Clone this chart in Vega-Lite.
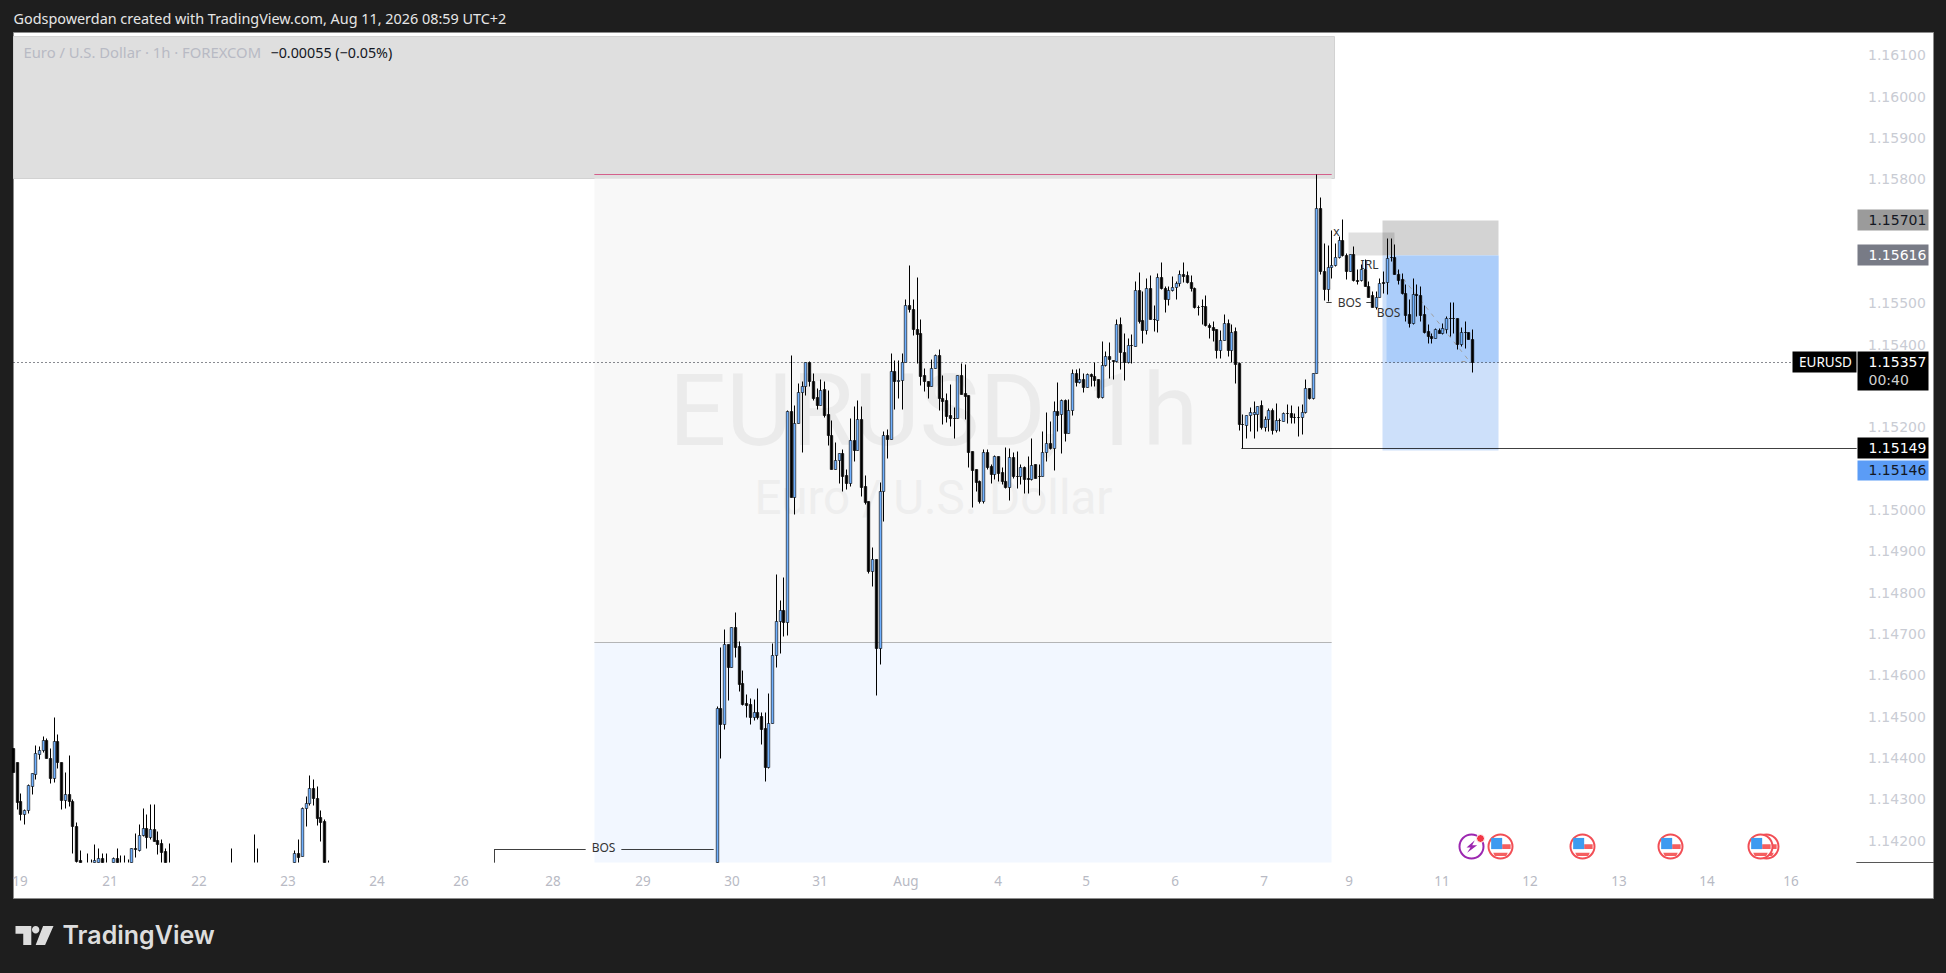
{
"$schema":"https://vega.github.io/schema/vega-lite/v6.json",
"width":1946,"height":973,"autosize":"none","padding":{"left":0.5,"top":0.5,"right":0,"bottom":0},
"background":"#1e1e1e",
"config":{"view":{"stroke":null},"axis":{"grid":false}},
"resolve":{"scale":{"fill":"independent","stroke":"independent","color":"independent","strokeDash":"independent"}},
"datasets":{
"zones":[
{"name":"frame","b1":0,"b2":518.4,"p1":1.16156,"p2":1.14061},
{"name":"supply","b1":0,"b2":356.8,"p1":1.16146,"p2":1.15802},
{"name":"range","b1":156.9,"b2":355.9,"p1":1.15802,"p2":1.1468},
{"name":"discount","b1":156.9,"b2":355.9,"p1":1.1468,"p2":1.14148},
{"name":"stop","b1":369.6,"b2":400.9,"p1":1.15701,"p2":1.15616},
{"name":"target","b1":369.6,"b2":400.9,"p1":1.15616,"p2":1.15146},
{"name":"open profit","b1":370.8,"b2":400.9,"p1":1.15616,"p2":1.15357},
{"name":"block","b1":360.5,"b2":372.9,"p1":1.15672,"p2":1.15616}
],
"lines":[
{"name":"high","b1":156.9,"b2":355.9,"p1":1.15814,"p2":1.15814},
{"name":"mid","b1":156.9,"b2":355.9,"p1":1.1468,"p2":1.1468},
{"name":"last","b1":0,"b2":480.4,"p1":1.15357,"p2":1.15357},
{"name":"low","b1":331.6,"b2":497.7,"p1":1.15149,"p2":1.15149},
{"name":"bos","b1":130,"b2":154.5,"p1":1.1418,"p2":1.1418},
{"name":"bos","b1":164.2,"b2":189,"p1":1.1418,"p2":1.1418},
{"name":"bos","b1":130,"b2":130,"p1":1.1418,"p2":1.14148},
{"name":"bos","b1":354.6,"b2":355.9,"p1":1.15503,"p2":1.15503},
{"name":"bos","b1":365.4,"b2":366.7,"p1":1.15503,"p2":1.15503},
{"name":"path","b1":373.8,"b2":393.5,"p1":1.15577,"p2":1.15359},
{"name":"path","b1":391,"b2":393.5,"p1":1.15361,"p2":1.15361},
{"name":"scale","b1":497.7,"b2":518.4,"p1":1.14148,"p2":1.14148}
],
"candles":[
{"b":0,"o":1.14425,"h":1.14425,"l":1.14365,"c":1.14365},
{"b":1,"o":1.14389,"h":1.14389,"l":1.14276,"c":1.14294},
{"b":2,"o":1.14295,"h":1.14315,"l":1.14249,"c":1.14264},
{"b":3,"o":1.14264,"h":1.14276,"l":1.1424,"c":1.14274},
{"b":4,"o":1.14274,"h":1.14336,"l":1.14266,"c":1.14334},
{"b":5,"o":1.14332,"h":1.14363,"l":1.14312,"c":1.14363},
{"b":6,"o":1.14361,"h":1.14431,"l":1.14349,"c":1.14411},
{"b":7,"o":1.14409,"h":1.14429,"l":1.14397,"c":1.1442},
{"b":8,"o":1.1442,"h":1.14452,"l":1.14415,"c":1.14444},
{"b":9,"o":1.14444,"h":1.14449,"l":1.14399,"c":1.14399},
{"b":10,"o":1.14401,"h":1.14423,"l":1.1434,"c":1.14351},
{"b":11,"o":1.14351,"h":1.14498,"l":1.14342,"c":1.1444},
{"b":12,"o":1.1444,"h":1.14457,"l":1.14375,"c":1.14389},
{"b":13,"o":1.14389,"h":1.14389,"l":1.14276,"c":1.14299},
{"b":14,"o":1.14299,"h":1.14366,"l":1.1428,"c":1.14312},
{"b":15,"o":1.14312,"h":1.14407,"l":1.14284,"c":1.14295},
{"b":16,"o":1.14295,"h":1.143,"l":1.14169,"c":1.14236},
{"b":17,"o":1.14236,"h":1.14245,"l":1.14148,"c":1.14151},
{"b":18,"o":1.14152,"h":1.14177,"l":1.14148,"c":1.14148},
{"b":20,"h":1.14171,"l":1.14148},
{"b":21,"h":1.14155,"l":1.14148},
{"b":22,"o":1.14148,"h":1.14191,"l":1.14148,"c":1.14152},
{"b":23,"o":1.14148,"h":1.14183,"l":1.14148,"c":1.14157},
{"b":24,"o":1.14157,"h":1.14171,"l":1.14148,"c":1.14148},
{"b":25,"h":1.14169,"l":1.14148},
{"b":27,"o":1.14148,"h":1.14161,"l":1.14148,"c":1.14159},
{"b":28,"o":1.14159,"h":1.14183,"l":1.14148,"c":1.14148},
{"b":29,"h":1.14165,"l":1.14148},
{"b":30,"h":1.14165,"l":1.14148},
{"b":31,"h":1.14155,"l":1.14148},
{"b":32,"o":1.14148,"h":1.14181,"l":1.14148,"c":1.14181},
{"b":33,"o":1.14181,"h":1.14219,"l":1.14161,"c":1.14179},
{"b":34,"o":1.14178,"h":1.1424,"l":1.14175,"c":1.14213},
{"b":35,"o":1.14213,"h":1.14278,"l":1.1421,"c":1.1423},
{"b":36,"o":1.1423,"h":1.14264,"l":1.14182,"c":1.14209},
{"b":37,"o":1.14209,"h":1.14288,"l":1.14205,"c":1.14228},
{"b":38,"o":1.14228,"h":1.14288,"l":1.14199,"c":1.14199},
{"b":39,"o":1.14201,"h":1.14224,"l":1.14167,"c":1.14192},
{"b":40,"o":1.14194,"h":1.14205,"l":1.14148,"c":1.14173},
{"b":41,"o":1.14174,"h":1.14181,"l":1.14148,"c":1.14148},
{"b":42,"h":1.14195,"l":1.14148},
{"b":59,"h":1.14183,"l":1.14148},
{"b":65,"h":1.14217,"l":1.14148},
{"b":66,"h":1.14183,"l":1.14148},
{"b":76,"o":1.14148,"h":1.14177,"l":1.14148,"c":1.14171},
{"b":77,"o":1.14171,"h":1.14205,"l":1.14148,"c":1.14161},
{"b":78,"o":1.14163,"h":1.14282,"l":1.14163,"c":1.14278},
{"b":79,"o":1.14278,"h":1.14308,"l":1.14236,"c":1.14292},
{"b":80,"o":1.14292,"h":1.14358,"l":1.14286,"c":1.14327},
{"b":81,"o":1.14327,"h":1.1435,"l":1.14286,"c":1.14302},
{"b":82,"o":1.14302,"h":1.14331,"l":1.14237,"c":1.14255},
{"b":83,"o":1.14256,"h":1.14274,"l":1.14199,"c":1.14245},
{"b":84,"o":1.14247,"h":1.14252,"l":1.14148,"c":1.14148},
{"b":85,"h":1.14153,"l":1.14148},
{"b":190,"o":1.14148,"h":1.14525,"l":1.14148,"c":1.14521},
{"b":191,"o":1.14521,"h":1.14669,"l":1.144,"c":1.14481},
{"b":192,"o":1.14481,"h":1.14712,"l":1.14471,"c":1.14675},
{"b":193,"o":1.14675,"h":1.14675,"l":1.14541,"c":1.14619},
{"b":194,"o":1.14619,"h":1.14716,"l":1.14619,"c":1.14716},
{"b":195,"o":1.14716,"h":1.14753,"l":1.14645,"c":1.14669},
{"b":196,"o":1.14671,"h":1.14682,"l":1.14561,"c":1.1458},
{"b":197,"o":1.14581,"h":1.14612,"l":1.14528,"c":1.1453},
{"b":198,"o":1.14532,"h":1.14555,"l":1.14498,"c":1.14529},
{"b":199,"o":1.1453,"h":1.14545,"l":1.14481,"c":1.14498},
{"b":200,"o":1.14498,"h":1.14543,"l":1.14492,"c":1.14512},
{"b":201,"o":1.14512,"h":1.14569,"l":1.14494,"c":1.145},
{"b":202,"o":1.14502,"h":1.14512,"l":1.14434,"c":1.14471},
{"b":203,"o":1.14472,"h":1.14512,"l":1.14345,"c":1.14377},
{"b":204,"o":1.14377,"h":1.14557,"l":1.14375,"c":1.14484},
{"b":205,"o":1.14484,"h":1.14678,"l":1.14484,"c":1.14648},
{"b":206,"o":1.14648,"h":1.14845,"l":1.14619,"c":1.14731},
{"b":207,"o":1.14731,"h":1.14782,"l":1.14655,"c":1.14759},
{"b":208,"o":1.14759,"h":1.14837,"l":1.14696,"c":1.14728},
{"b":209,"o":1.14728,"h":1.15241,"l":1.14698,"c":1.15239},
{"b":210,"o":1.15239,"h":1.15375,"l":1.15031,"c":1.15031},
{"b":211,"o":1.15031,"h":1.15254,"l":1.1499,"c":1.1521},
{"b":212,"o":1.1521,"h":1.15308,"l":1.1521,"c":1.15286},
{"b":213,"o":1.15285,"h":1.15311,"l":1.15141,"c":1.15299},
{"b":214,"o":1.15299,"h":1.15357,"l":1.15278,"c":1.15357},
{"b":215,"o":1.15357,"h":1.1536,"l":1.15299,"c":1.15313},
{"b":216,"o":1.15313,"h":1.15331,"l":1.15267,"c":1.15272},
{"b":217,"o":1.15274,"h":1.15294,"l":1.15244,"c":1.15255},
{"b":218,"o":1.15255,"h":1.15316,"l":1.15254,"c":1.1529},
{"b":219,"o":1.15292,"h":1.15311,"l":1.15225,"c":1.15229},
{"b":220,"o":1.15231,"h":1.1529,"l":1.15157,"c":1.15182},
{"b":221,"o":1.15182,"h":1.15217,"l":1.151,"c":1.151},
{"b":222,"o":1.151,"h":1.15165,"l":1.151,"c":1.15122},
{"b":223,"o":1.15121,"h":1.15139,"l":1.15066,"c":1.15137},
{"b":224,"o":1.15137,"h":1.15147,"l":1.15045,"c":1.15082},
{"b":225,"o":1.15084,"h":1.15098,"l":1.15051,"c":1.15066},
{"b":226,"o":1.15066,"h":1.15223,"l":1.15057,"c":1.1517},
{"b":227,"o":1.1517,"h":1.15251,"l":1.15119,"c":1.15146},
{"b":228,"o":1.15146,"h":1.15266,"l":1.15146,"c":1.15221},
{"b":229,"o":1.15221,"h":1.15251,"l":1.15033,"c":1.15056},
{"b":230,"o":1.15057,"h":1.15084,"l":1.15015,"c":1.15019},
{"b":231,"o":1.15021,"h":1.15022,"l":1.14848,"c":1.14853},
{"b":232,"o":1.14853,"h":1.1491,"l":1.14816,"c":1.14882},
{"b":233,"o":1.14882,"h":1.14882,"l":1.14553,"c":1.14667},
{"b":234,"o":1.14667,"h":1.15067,"l":1.14627,"c":1.15047},
{"b":235,"o":1.15047,"h":1.15192,"l":1.14974,"c":1.15182},
{"b":236,"o":1.15182,"h":1.15195,"l":1.15125,"c":1.15172},
{"b":237,"o":1.15172,"h":1.15379,"l":1.15172,"c":1.15337},
{"b":238,"o":1.15337,"h":1.15364,"l":1.15245,"c":1.15311},
{"b":239,"o":1.15311,"h":1.15364,"l":1.15272,"c":1.15315},
{"b":240,"o":1.15315,"h":1.1538,"l":1.15244,"c":1.15358},
{"b":241,"o":1.15359,"h":1.1551,"l":1.15359,"c":1.15495},
{"b":242,"o":1.15495,"h":1.15592,"l":1.15479,"c":1.15485},
{"b":243,"o":1.15487,"h":1.15511,"l":1.15423,"c":1.15437},
{"b":244,"o":1.15439,"h":1.15563,"l":1.15355,"c":1.15425},
{"b":245,"o":1.15427,"h":1.15463,"l":1.15302,"c":1.15324},
{"b":246,"o":1.15326,"h":1.15344,"l":1.15288,"c":1.15312},
{"b":247,"o":1.15313,"h":1.15313,"l":1.15271,"c":1.153},
{"b":248,"o":1.153,"h":1.15366,"l":1.153,"c":1.15344},
{"b":249,"o":1.15344,"h":1.15378,"l":1.15343,"c":1.15374},
{"b":250,"o":1.15374,"h":1.1539,"l":1.15242,"c":1.15271},
{"b":251,"o":1.15272,"h":1.15326,"l":1.15207,"c":1.15264},
{"b":252,"o":1.15265,"h":1.15284,"l":1.15213,"c":1.15227},
{"b":253,"o":1.15229,"h":1.15304,"l":1.15202,"c":1.15223},
{"b":254,"o":1.15223,"h":1.15248,"l":1.15174,"c":1.15222},
{"b":255,"o":1.15223,"h":1.15327,"l":1.15223,"c":1.15327},
{"b":256,"o":1.15327,"h":1.15355,"l":1.15281,"c":1.15281},
{"b":257,"o":1.15282,"h":1.15352,"l":1.15219,"c":1.15276},
{"b":258,"o":1.15277,"h":1.15277,"l":1.15105,"c":1.1514},
{"b":259,"o":1.15142,"h":1.15143,"l":1.15007,"c":1.15097},
{"b":260,"o":1.15098,"h":1.15098,"l":1.15046,"c":1.15068},
{"b":261,"o":1.1507,"h":1.15072,"l":1.15016,"c":1.15022},
{"b":262,"o":1.15022,"h":1.15148,"l":1.15016,"c":1.1514},
{"b":263,"o":1.1514,"h":1.15148,"l":1.15098,"c":1.15105},
{"b":264,"o":1.15106,"h":1.15111,"l":1.15065,"c":1.15086},
{"b":265,"o":1.15088,"h":1.15132,"l":1.15074,"c":1.1513},
{"b":266,"o":1.1513,"h":1.1513,"l":1.1507,"c":1.15089},
{"b":267,"o":1.15091,"h":1.15105,"l":1.15062,"c":1.15069},
{"b":268,"o":1.15071,"h":1.15153,"l":1.15054,"c":1.15056},
{"b":269,"o":1.15056,"h":1.15149,"l":1.15024,"c":1.15127},
{"b":270,"o":1.15127,"h":1.15141,"l":1.15078,"c":1.15082},
{"b":271,"o":1.15082,"h":1.15143,"l":1.15054,"c":1.15081},
{"b":272,"o":1.15082,"h":1.15111,"l":1.15062,"c":1.15105},
{"b":273,"o":1.15105,"h":1.15107,"l":1.15042,"c":1.15076},
{"b":274,"o":1.15077,"h":1.15131,"l":1.15042,"c":1.15076},
{"b":275,"o":1.15076,"h":1.15173,"l":1.15073,"c":1.15109},
{"b":276,"o":1.1511,"h":1.1511,"l":1.15077,"c":1.15078},
{"b":277,"o":1.15083,"h":1.1511,"l":1.15036,"c":1.15082},
{"b":278,"o":1.15082,"h":1.1519,"l":1.15082,"c":1.15141},
{"b":279,"o":1.15141,"h":1.15236,"l":1.15119,"c":1.15163},
{"b":280,"o":1.15163,"h":1.15215,"l":1.15148,"c":1.1515},
{"b":281,"o":1.15151,"h":1.15264,"l":1.15097,"c":1.1524},
{"b":282,"o":1.1524,"h":1.1531,"l":1.15191,"c":1.15229},
{"b":283,"o":1.15231,"h":1.15268,"l":1.15139,"c":1.15265},
{"b":284,"o":1.15265,"h":1.15269,"l":1.15167,"c":1.15187},
{"b":285,"o":1.15187,"h":1.15268,"l":1.15187,"c":1.15243},
{"b":286,"o":1.15243,"h":1.1534,"l":1.15229,"c":1.15332},
{"b":287,"o":1.15332,"h":1.1534,"l":1.153,"c":1.1531},
{"b":288,"o":1.1531,"h":1.15344,"l":1.15308,"c":1.15316},
{"b":289,"o":1.15316,"h":1.15332,"l":1.15285,"c":1.15297},
{"b":290,"o":1.15297,"h":1.15332,"l":1.15297,"c":1.1533},
{"b":291,"o":1.1533,"h":1.15332,"l":1.153,"c":1.15323},
{"b":292,"o":1.15323,"h":1.15359,"l":1.153,"c":1.15315},
{"b":293,"o":1.15316,"h":1.15316,"l":1.15272,"c":1.15274},
{"b":294,"o":1.15273,"h":1.15408,"l":1.15271,"c":1.1535},
{"b":295,"o":1.1535,"h":1.15385,"l":1.15348,"c":1.15373},
{"b":296,"o":1.15373,"h":1.15406,"l":1.1532,"c":1.15365},
{"b":297,"o":1.15363,"h":1.15364,"l":1.15318,"c":1.1536},
{"b":298,"o":1.1536,"h":1.15461,"l":1.15359,"c":1.15449},
{"b":299,"o":1.15449,"h":1.15468,"l":1.15342,"c":1.15382},
{"b":300,"o":1.15383,"h":1.15429,"l":1.15314,"c":1.15359},
{"b":301,"o":1.15359,"h":1.15416,"l":1.15356,"c":1.154},
{"b":302,"o":1.154,"h":1.15425,"l":1.15355,"c":1.15398},
{"b":303,"o":1.15397,"h":1.15554,"l":1.15397,"c":1.15531},
{"b":304,"o":1.15531,"h":1.15576,"l":1.15453,"c":1.15457},
{"b":305,"o":1.15459,"h":1.1553,"l":1.15403,"c":1.15435},
{"b":306,"o":1.15435,"h":1.15562,"l":1.15425,"c":1.15538},
{"b":307,"o":1.15538,"h":1.15569,"l":1.15461,"c":1.15463},
{"b":308,"o":1.15463,"h":1.15495,"l":1.15433,"c":1.15462},
{"b":309,"o":1.1546,"h":1.15574,"l":1.15431,"c":1.15564},
{"b":310,"o":1.15564,"h":1.156,"l":1.15535,"c":1.15537},
{"b":311,"o":1.15537,"h":1.15543,"l":1.15479,"c":1.15511},
{"b":312,"o":1.15511,"h":1.15543,"l":1.15495,"c":1.15532},
{"b":313,"o":1.15532,"h":1.15566,"l":1.1553,"c":1.15539},
{"b":314,"o":1.15539,"h":1.15554,"l":1.1551,"c":1.1555},
{"b":315,"o":1.1555,"h":1.1558,"l":1.15543,"c":1.15572},
{"b":316,"o":1.15572,"h":1.156,"l":1.15552,"c":1.15566},
{"b":317,"o":1.15568,"h":1.15578,"l":1.1555,"c":1.15552},
{"b":318,"o":1.15552,"h":1.15568,"l":1.15529,"c":1.15537},
{"b":319,"o":1.15537,"h":1.15539,"l":1.15488,"c":1.1549},
{"b":320,"o":1.15492,"h":1.15497,"l":1.15471,"c":1.15491},
{"b":321,"o":1.15494,"h":1.1551,"l":1.15449,"c":1.15493},
{"b":322,"o":1.15494,"h":1.15519,"l":1.15445,"c":1.15448},
{"b":323,"o":1.15448,"h":1.15453,"l":1.15417,"c":1.15443},
{"b":324,"o":1.15443,"h":1.15457,"l":1.15409,"c":1.15435},
{"b":325,"o":1.15437,"h":1.15437,"l":1.15368,"c":1.15388},
{"b":326,"o":1.15388,"h":1.15435,"l":1.15368,"c":1.15411},
{"b":327,"o":1.15411,"h":1.15473,"l":1.15411,"c":1.15453},
{"b":328,"o":1.15453,"h":1.15461,"l":1.15373,"c":1.15387},
{"b":329,"o":1.15386,"h":1.15449,"l":1.15359,"c":1.15431},
{"b":330,"o":1.15432,"h":1.15443,"l":1.15306,"c":1.15353},
{"b":331,"o":1.15355,"h":1.15358,"l":1.15193,"c":1.15208},
{"b":332,"o":1.15209,"h":1.15231,"l":1.15149,"c":1.15208},
{"b":333,"o":1.15206,"h":1.1523,"l":1.15175,"c":1.1523},
{"b":334,"o":1.1523,"h":1.15248,"l":1.15191,"c":1.15238},
{"b":335,"o":1.15231,"h":1.15264,"l":1.15175,"c":1.15238},
{"b":336,"o":1.15233,"h":1.15252,"l":1.1519,"c":1.15252},
{"b":337,"o":1.15253,"h":1.15266,"l":1.15197,"c":1.15201},
{"b":338,"o":1.15201,"h":1.15227,"l":1.15191,"c":1.15221},
{"b":339,"o":1.15221,"h":1.15247,"l":1.15191,"c":1.15243},
{"b":340,"o":1.15243,"h":1.15247,"l":1.15183,"c":1.15194},
{"b":341,"o":1.15194,"h":1.15258,"l":1.15189,"c":1.15218},
{"b":342,"o":1.15218,"h":1.15223,"l":1.15191,"c":1.15217},
{"b":343,"o":1.15215,"h":1.15238,"l":1.15215,"c":1.15235},
{"b":344,"o":1.15235,"h":1.15256,"l":1.15211,"c":1.15234},
{"b":345,"o":1.15235,"h":1.15253,"l":1.15211,"c":1.15225},
{"b":346,"o":1.15225,"h":1.15235,"l":1.15211,"c":1.15224},
{"b":347,"o":1.15225,"h":1.15252,"l":1.15179,"c":1.15224},
{"b":348,"o":1.15225,"h":1.15257,"l":1.15183,"c":1.15238},
{"b":349,"o":1.15238,"h":1.15316,"l":1.15234,"c":1.15294},
{"b":350,"o":1.15294,"h":1.15296,"l":1.15269,"c":1.15271},
{"b":351,"o":1.15271,"h":1.15332,"l":1.15269,"c":1.15332},
{"b":352,"o":1.15332,"h":1.15814,"l":1.15332,"c":1.15731},
{"b":353,"o":1.15731,"h":1.15758,"l":1.1557,"c":1.15578},
{"b":354,"o":1.15578,"h":1.15645,"l":1.15508,"c":1.15534},
{"b":355,"o":1.15534,"h":1.1564,"l":1.15506,"c":1.15589},
{"b":356,"o":1.15589,"h":1.15677,"l":1.1556,"c":1.15593},
{"b":357,"o":1.15593,"h":1.15647,"l":1.1559,"c":1.15613},
{"b":358,"o":1.15613,"h":1.15664,"l":1.1561,"c":1.15652},
{"b":359,"o":1.15652,"h":1.15705,"l":1.15614,"c":1.15616},
{"b":360,"o":1.15618,"h":1.15622,"l":1.15558,"c":1.15578},
{"b":361,"o":1.15578,"h":1.1562,"l":1.15577,"c":1.1562},
{"b":362,"o":1.1562,"h":1.15639,"l":1.15554,"c":1.15556},
{"b":363,"o":1.15556,"h":1.15582,"l":1.15546,"c":1.15555},
{"b":364,"o":1.15556,"h":1.15594,"l":1.15554,"c":1.15584},
{"b":365,"o":1.15584,"h":1.15606,"l":1.15542,"c":1.15542},
{"b":366,"o":1.15543,"h":1.15554,"l":1.15516,"c":1.15516},
{"b":367,"o":1.15519,"h":1.1553,"l":1.15492,"c":1.15492},
{"b":368,"o":1.15492,"h":1.1553,"l":1.15485,"c":1.15516},
{"b":369,"o":1.15516,"h":1.15562,"l":1.15516,"c":1.1555},
{"b":370,"o":1.15552,"h":1.15578,"l":1.15526,"c":1.1555},
{"b":371,"o":1.15552,"h":1.15659,"l":1.15522,"c":1.1561},
{"b":372,"o":1.15612,"h":1.15659,"l":1.15602,"c":1.15611},
{"b":373,"o":1.15613,"h":1.15643,"l":1.1557,"c":1.1557},
{"b":374,"o":1.15572,"h":1.15582,"l":1.15546,"c":1.15556},
{"b":375,"o":1.15558,"h":1.15574,"l":1.15522,"c":1.15524},
{"b":376,"o":1.15526,"h":1.15546,"l":1.15457,"c":1.15472},
{"b":377,"o":1.15473,"h":1.1551,"l":1.15443,"c":1.15452},
{"b":378,"o":1.15453,"h":1.1556,"l":1.15449,"c":1.15522},
{"b":379,"o":1.15522,"h":1.15546,"l":1.15469,"c":1.15521},
{"b":380,"o":1.15519,"h":1.15543,"l":1.15456,"c":1.15472},
{"b":381,"o":1.15473,"h":1.15496,"l":1.15429,"c":1.15431},
{"b":382,"o":1.15432,"h":1.15449,"l":1.15403,"c":1.15421},
{"b":383,"o":1.15421,"h":1.15429,"l":1.15405,"c":1.15416},
{"b":384,"o":1.15416,"h":1.15441,"l":1.15416,"c":1.15437},
{"b":385,"o":1.15435,"h":1.15441,"l":1.15429,"c":1.15429},
{"b":386,"o":1.15429,"h":1.15453,"l":1.15425,"c":1.15441},
{"b":387,"o":1.15439,"h":1.15469,"l":1.15429,"c":1.15464},
{"b":388,"o":1.15465,"h":1.15502,"l":1.15421,"c":1.15464},
{"b":389,"o":1.15465,"h":1.15502,"l":1.15429,"c":1.15464},
{"b":390,"o":1.15465,"h":1.15465,"l":1.1539,"c":1.15401},
{"b":391,"o":1.15401,"h":1.15443,"l":1.15397,"c":1.15431},
{"b":392,"o":1.15431,"h":1.15456,"l":1.15393,"c":1.1543},
{"b":393,"o":1.1543,"h":1.15431,"l":1.15413,"c":1.15413},
{"b":394,"o":1.15414,"h":1.15437,"l":1.15334,"c":1.15357}
],
"tags":[
{"name":"stop","b1":498,"b2":517.2,"p1":1.15727,"p2":1.15677},
{"name":"entry","b1":498,"b2":517.2,"p1":1.15643,"p2":1.15592},
{"name":"black","b1":498,"b2":517.2,"p1":1.15384,"p2":1.1529},
{"name":"black","b1":480.4,"b2":497.7,"p1":1.15384,"p2":1.15333},
{"name":"black","b1":498,"b2":517.2,"p1":1.15176,"p2":1.15125},
{"name":"target","b1":498,"b2":517.2,"p1":1.1512,"p2":1.15072}
],
"tagtext":[
{"label":"1.15701","b":500.9,"p":1.15701,"tone":"dark"},
{"label":"1.15616","b":500.9,"p":1.15616,"tone":"white"},
{"label":"1.15357","b":500.9,"p":1.15357,"tone":"white"},
{"label":"00:40","b":500.9,"p":1.15314,"tone":"soft"},
{"label":"1.15149","b":500.9,"p":1.15149,"tone":"white"},
{"label":"1.15146","b":500.9,"p":1.15096,"tone":"dark"}
],
"flags":[
{"event":"US data","b":401.6,"p":1.14186},
{"event":"US data","b":423.6,"p":1.14186},
{"event":"US data","b":447.6,"p":1.14186},
{"event":"US data","b":471.7,"p":1.14186}
]
},
"layer":[
{"data":{"name":"zones"},"mark":{"type":"rect","strokeWidth":1},
 "encoding":{
  "x":{"field":"b1","type":"quantitative","title":null,"scale":{"domain":[-3.5107,522.009],"nice":false,"zero":false,"padding":0,"round":true},
   "axis":{"orient":"bottom","offset":-111,"title":null,"domain":false,"ticks":false,"tickSize":0,"grid":false,"labelPadding":12,"labelFont":"Noto Sans","labelFontSize":13.5,"labelColor":"#b8bac4","labelOverlap":false,"labelFlush":false,"zindex":1,
    "values":[1.5,25.8,50,74,98,120.7,145.6,169.8,193.9,217.7,240.9,265.6,289.4,313.5,337.6,360.5,385.5,409.4,433.4,457.2,479.9],
    "labelExpr":"{'1.5':'19','25.8':'21','50':'22','74':'23','98':'24','120.7':'26','145.6':'28','169.8':'29','193.9':'30','217.7':'31','240.9':'Aug','265.6':'4','289.4':'5','313.5':'6','337.6':'7','360.5':'9','385.5':'11','409.4':'12','433.4':'13','457.2':'14','479.9':'16'}[''+datum.value]"}},
  "x2":{"field":"b2"},
  "y":{"field":"p1","type":"quantitative","title":null,"scale":{"domain":[1.138797,1.162338],"nice":false,"zero":false,"padding":0,"round":true},
   "axis":{"orient":"right","offset":-89,"title":null,"domain":false,"ticks":false,"tickSize":0,"grid":false,"labelPadding":10,"labelFont":"DejaVu Sans","labelFontSize":14,"labelColor":"#c9ccd4","labelOverlap":false,"labelFlush":false,"format":".5f","zindex":1,
    "values":[1.161,1.16,1.159,1.158,1.155,1.154,1.152,1.15,1.149,1.148,1.147,1.146,1.145,1.144,1.143,1.142]}},
  "y2":{"field":"p2"},
  "fill":{"field":"name","type":"nominal","legend":null,"scale":{"domain":["frame","supply","range","discount","stop","target","open profit","block"],"range":["#ffffff","#dfdfdf","#f8f8f8","#f2f7ff","#d3d3d3","#cde0fa","#abcdfa","rgba(0,0,0,0.12)"]}},
  "stroke":{"field":"name","type":"nominal","legend":null,"scale":{"domain":["frame","supply","range","discount","stop","target","open profit","block"],"range":["#8c8c8c","#d2d2d2","transparent","transparent","transparent","transparent","transparent","transparent"]}}
 }},
{"data":{"values":[{"text":"EURUSD, 1h","b":248.4,"p":1.15231}]},"mark":{"type":"text","font":"Roboto","fontSize":101,"color":"#ebebeb","align":"center","baseline":"middle"},
 "encoding":{"x":{"field":"b","type":"quantitative"},"y":{"field":"p","type":"quantitative"},"text":{"field":"text"}}},
{"data":{"values":[{"text":"Euro / U.S. Dollar","b":248.4,"p":1.15027}]},"mark":{"type":"text","font":"Roboto","fontSize":47.5,"color":"#eeeeee","align":"center","baseline":"middle"},
 "encoding":{"x":{"field":"b","type":"quantitative"},"y":{"field":"p","type":"quantitative"},"text":{"field":"text"}}},
{"data":{"name":"lines"},"mark":{"type":"rule","strokeWidth":1},
 "encoding":{
  "x":{"field":"b1","type":"quantitative"},"x2":{"field":"b2"},
  "y":{"field":"p1","type":"quantitative"},"y2":{"field":"p2"},
  "color":{"field":"name","type":"nominal","legend":null,"scale":{"domain":["high","mid","last","low","bos","path","scale"],"range":["#d0356f","#9e9e9e","#131722","#000000","#000000","#a0a0a0","#1e1e1e"]}},
  "strokeDash":{"field":"name","type":"nominal","legend":null,"scale":{"domain":["high","mid","last","low","bos","path","scale"],"range":[[1,0],[1,0],[1,3],[1,0],[1,0],[4,5],[1,0]]}}
 }},
{"data":{"name":"candles"},"mark":{"type":"rule","color":"#000000","strokeWidth":1},
 "encoding":{"x":{"field":"b","type":"quantitative"},"y":{"field":"l","type":"quantitative"},"y2":{"field":"h"}}},
{"data":{"name":"candles"},"mark":{"type":"bar","size":2.5,"stroke":"#000000","strokeWidth":0.6},
 "encoding":{"x":{"field":"b","type":"quantitative"},"y":{"field":"o","type":"quantitative"},"y2":{"field":"c"},
  "fill":{"condition":{"test":"datum.c>datum.o","value":"#6fb0ff"},"value":"#000000"}}},
{"data":{"values":[
  {"text":"BOS","b":159.4,"p":1.14184},{"text":"BOS","b":360.8,"p":1.15503},{"text":"BOS","b":371.4,"p":1.15478},{"text":"IRL","b":366.2,"p":1.15595},{"text":"x","b":357.2,"p":1.15676}]},
 "mark":{"type":"text","font":"Noto Sans","fontSize":12,"color":"#333333","align":"center","baseline":"middle"},
 "encoding":{"x":{"field":"b","type":"quantitative"},"y":{"field":"p","type":"quantitative"},"text":{"field":"text"}}},
{"data":{"name":"tags"},"mark":{"type":"rect"},
 "encoding":{"x":{"field":"b1","type":"quantitative"},"x2":{"field":"b2"},"y":{"field":"p1","type":"quantitative"},"y2":{"field":"p2"},
  "fill":{"field":"name","type":"nominal","legend":null,"scale":{"domain":["stop","entry","black","target"],"range":["#9b9b9b","#787b86","#000000","#5b9cf6"]}}}},
{"data":{"name":"tagtext"},"mark":{"type":"text","font":"DejaVu Sans","fontSize":14,"align":"left","baseline":"middle"},
 "encoding":{"x":{"field":"b","type":"quantitative"},"y":{"field":"p","type":"quantitative"},"text":{"field":"label"},
  "color":{"field":"tone","type":"nominal","legend":null,"scale":{"domain":["dark","white","soft"],"range":["#131722","#ffffff","#d0d0d0"]}}}},
{"data":{"values":[{"text":"EURUSD","b":489.2,"p":1.15357}]},"mark":{"type":"text","font":"Noto Sans","fontSize":13.5,"color":"#ffffff","align":"center","baseline":"middle"},
 "encoding":{"x":{"field":"b","type":"quantitative"},"y":{"field":"p","type":"quantitative"},"text":{"field":"text"}}},
{"data":{"values":[{"text":"Godspowerdan created with TradingView.com, Aug 11, 2026 08:59 UTC+2","b":0,"p":1.16187}]},"mark":{"type":"text","font":"Noto Sans","fontSize":14.4,"color":"#e6e6e6","align":"left","baseline":"middle"},
 "encoding":{"x":{"field":"b","type":"quantitative"},"y":{"field":"p","type":"quantitative"},"text":{"field":"text"}}},
{"data":{"values":[{"text":"Euro / U.S. Dollar · 1h · FOREXCOM","b":2.7,"p":1.16106}]},"mark":{"type":"text","font":"Noto Sans","fontSize":14.8,"color":"#b8bac4","align":"left","baseline":"middle"},
 "encoding":{"x":{"field":"b","type":"quantitative"},"y":{"field":"p","type":"quantitative"},"text":{"field":"text"}}},
{"data":{"values":[{"text":"−0.00055 (−0.05%)","b":69.4,"p":1.16106}]},"mark":{"type":"text","font":"Noto Sans","fontSize":14.3,"color":"#131722","align":"left","baseline":"middle"},
 "encoding":{"x":{"field":"b","type":"quantitative"},"y":{"field":"p","type":"quantitative"},"text":{"field":"text"}}},
{"data":{"values":[{"text":"TradingView","b":13.2,"p":1.13971}]},"mark":{"type":"text","font":"Inter","fontSize":25,"fontWeight":600,"color":"#dddddd","align":"left","baseline":"middle"},
 "encoding":{"x":{"field":"b","type":"quantitative"},"y":{"field":"p","type":"quantitative"},"text":{"field":"text"}}},
{"data":{"values":[{"b":5.6,"p":1.13971}]},"mark":{"type":"point","filled":true,"opacity":1,"size":5776,"color":"#dddddd","shape":"M-.5,-.248L-.084,-.248L-.084,.248L-.296,.248L-.296,-.044L-.5,-.044ZM-.066,-.15A.097,.097 0 1 1 .128,-.15A.097,.097 0 1 1 -.066,-.15ZM.226,-.248L.5,-.248L.279,.248L.031,.248Z"},
 "encoding":{"x":{"field":"b","type":"quantitative"},"y":{"field":"p","type":"quantitative"}}},
{"data":{"values":[{"b":473.5,"p":1.14186}]},"mark":{"type":"point","shape":"circle","filled":true,"opacity":1,"size":576,"fill":"#ffffff","stroke":"#f24e55","strokeWidth":2},
 "encoding":{"x":{"field":"b","type":"quantitative"},"y":{"field":"p","type":"quantitative"}}},
{"data":{"values":[{"b":473.5,"p":1.14186}]},"mark":{"type":"point","filled":true,"opacity":1,"size":2704,"color":"#f55f5f","shape":"M.064,-.09L.39,-.09L.39,.1L.064,.1ZM-.28,.24L.28,.24L.22,.37L-.22,.37Z"},
 "encoding":{"x":{"field":"b","type":"quantitative"},"y":{"field":"p","type":"quantitative"}}},
{"data":{"values":[{"b":393.7,"p":1.14186}]},"mark":{"type":"point","shape":"circle","filled":true,"opacity":1,"size":576,"fill":"#ffffff","stroke":"#9c27b0","strokeWidth":2},
 "encoding":{"x":{"field":"b","type":"quantitative"},"y":{"field":"p","type":"quantitative"}}},
{"data":{"values":[{"b":393.7,"p":1.14186}]},"mark":{"type":"point","filled":true,"opacity":1,"size":2704,"color":"#9c27b0","shape":"M.128,-.244L-.192,.038L-.038,.038L-.167,.244L.218,-.051L.026,-.051Z"},
 "encoding":{"x":{"field":"b","type":"quantitative"},"y":{"field":"p","type":"quantitative"}}},
{"data":{"values":[{"b":396.1,"p":1.14206}]},"mark":{"type":"point","shape":"circle","filled":true,"opacity":1,"size":64,"fill":"#f23645","stroke":"#ffffff","strokeWidth":1},
 "encoding":{"x":{"field":"b","type":"quantitative"},"y":{"field":"p","type":"quantitative"}}},
{"data":{"name":"flags"},"mark":{"type":"point","shape":"circle","filled":true,"opacity":1,"size":576,"fill":"#ffffff","stroke":"#f24e55","strokeWidth":2},
 "encoding":{"x":{"field":"b","type":"quantitative"},"y":{"field":"p","type":"quantitative"}}},
{"data":{"name":"flags"},"mark":{"type":"point","filled":true,"opacity":1,"size":2704,"color":"#f55f5f","shape":"M.064,-.09L.39,-.09L.39,.1L.064,.1ZM-.28,.24L.28,.24L.22,.37L-.22,.37Z"},
 "encoding":{"x":{"field":"b","type":"quantitative"},"y":{"field":"p","type":"quantitative"}}},
{"data":{"name":"flags"},"mark":{"type":"point","filled":true,"opacity":1,"size":2704,"color":"#3d9bf0","shape":"M-.36,-.33L.064,-.33L.064,.1L-.36,.1Z"},
 "encoding":{"x":{"field":"b","type":"quantitative"},"y":{"field":"p","type":"quantitative"}}}
]
}
